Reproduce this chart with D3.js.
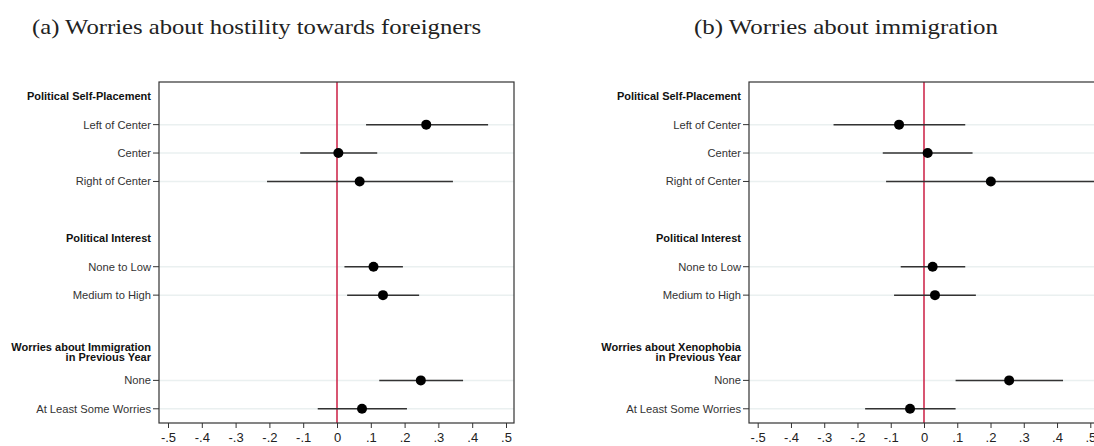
<!DOCTYPE html>
<html>
<head>
<meta charset="utf-8">
<script src="https://cdn.jsdelivr.net/npm/d3@7"></script>
<style>
  body { margin: 0; background: #fff; }
  svg { display: block; }
</style>
</head>
<body>
<script>
const width = 1094;
const height = 446;

// category rows (same for both panels) and their group
const categories = ["Left of Center", "Center", "Right of Center", "None to Low", "Medium to High", "None", "At Least Some Worries"];
const groupOf = [0, 0, 0, 1, 1, 2, 2];

const headingsA = [["Political Self-Placement"], ["Political Interest"], ["Worries about Immigration", "in Previous Year"]];
const headingsB = [["Political Self-Placement"], ["Political Interest"], ["Worries about Xenophobia", "in Previous Year"]];

// (a) hostility towards foreigners
const estA = [0.264, 0.004, 0.067, 0.108, 0.136, 0.248, 0.074];
const loA = [0.086, -0.109, -0.207, 0.022, 0.030, 0.125, -0.057];
const hiA = [0.447, 0.119, 0.343, 0.195, 0.243, 0.373, 0.207];

// (b) immigration
const estB = [-0.075, 0.011, 0.201, 0.026, 0.033, 0.256, -0.042];
const loB = [-0.272, -0.124, -0.114, -0.070, -0.090, 0.095, -0.177];
const hiB = [0.124, 0.146, 0.55, 0.124, 0.156, 0.418, 0.095];

const xTicks = [-0.5, -0.4, -0.3, -0.2, -0.1, 0, 0.1, 0.2, 0.3, 0.4, 0.5];
const titles = ["(a) Worries about hostility towards foreigners", "(b) Worries about immigration"];

let svg = d3.select("body")
    .append("svg")
    .attr("width", width)
    .attr("height", height);

function tickFmt(v) {
    if (v === 0) return "0";
    return (v < 0 ? "-" : "") + String(Math.abs(v)).replace(/^0/, "");
}

function drawPanel(p) {
    // build the row list: heading, items, blank spacer between groups
    let rows = [];
    p.headings.forEach((h, gi) => {
        rows.push({ key: "h" + gi, heading: h });
        categories.forEach((c, i) => {
            if (groupOf[i] === gi) rows.push({ key: "c" + i, idx: i });
        });
        if (gi < p.headings.length - 1) rows.push({ key: "b" + gi });
    });

    const top = 82, bottom = 423;
    const y = d3.scalePoint()
        .domain(rows.map(r => r.key))
        .range([top, bottom])
        .padding(0.5);

    const x = d3.scaleLinear()
        .domain([-0.5, 0.5])
        .range(p.xRange);

    const g = svg.append("g");

    // title (computer-modern look: stretched serif)
    svg.append("text")
        .attr("x", p.titleX)
        .attr("y", 34)
        .attr("font-family", "Liberation Serif, serif")
        .attr("font-size", 21)
        .attr("fill", "#222")
        .attr("textLength", p.titleLen)
        .attr("lengthAdjust", "spacingAndGlyphs")
        .text(p.title);

    // grid lines at each category
    const items = rows.filter(r => r.idx !== undefined);
    g.selectAll("line.grid")
        .data(items)
        .join("line")
        .attr("class", "grid")
        .attr("x1", p.boxLeft)
        .attr("x2", p.boxRight)
        .attr("y1", d => y(d.key))
        .attr("y2", d => y(d.key))
        .attr("stroke", "#eaf0f0")
        .attr("stroke-width", 1.5);

    // reference line at 0
    g.append("line")
        .attr("x1", x(0)).attr("x2", x(0))
        .attr("y1", top).attr("y2", bottom)
        .attr("stroke", "#cf2b4e")
        .attr("stroke-width", 1.6);

    // confidence intervals
    g.selectAll("line.ci")
        .data(items)
        .join("line")
        .attr("class", "ci")
        .attr("x1", d => x(p.lo[d.idx]))
        .attr("x2", d => x(p.hi[d.idx]))
        .attr("y1", d => y(d.key))
        .attr("y2", d => y(d.key))
        .attr("stroke", "#333")
        .attr("stroke-width", 1.5);

    g.selectAll("circle")
        .data(items)
        .join("circle")
        .attr("cx", d => x(p.est[d.idx]))
        .attr("cy", d => y(d.key))
        .attr("r", 5)
        .attr("fill", "#000");

    // plot box
    g.append("rect")
        .attr("x", p.boxLeft)
        .attr("y", top)
        .attr("width", p.boxRight - p.boxLeft)
        .attr("height", bottom - top)
        .attr("fill", "none")
        .attr("stroke", "#333")
        .attr("stroke-width", 1.2);

    // category labels with tick marks
    g.selectAll("line.ytick")
        .data(items)
        .join("line")
        .attr("class", "ytick")
        .attr("x1", p.boxLeft - 6).attr("x2", p.boxLeft)
        .attr("y1", d => y(d.key)).attr("y2", d => y(d.key))
        .attr("stroke", "#333");

    g.selectAll("text.ylab")
        .data(items)
        .join("text")
        .attr("class", "ylab")
        .attr("x", p.boxLeft - 8)
        .attr("y", d => y(d.key))
        .attr("dy", "0.35em")
        .attr("text-anchor", "end")
        .attr("font-family", "Liberation Sans, Arial, sans-serif")
        .attr("font-size", 11.2)
        .attr("fill", "#333")
        .text(d => categories[d.idx]);

    // group headings
    const heads = rows.filter(r => r.heading);
    g.selectAll("text.head")
        .data(heads)
        .join("text")
        .attr("class", "head")
        .attr("text-anchor", "end")
        .attr("font-family", "Liberation Sans, Arial, sans-serif")
        .attr("font-weight", "bold")
        .attr("font-size", 11)
        .attr("fill", "#111")
        .each(function(d) {
            const n = d.heading.length;
            d3.select(this).selectAll("tspan")
                .data(d.heading)
                .join("tspan")
                .attr("x", p.boxLeft - 8)
                .attr("y", (t, i) => y(d.key) + (i - (n - 1) / 2) * 10.6)
                .attr("dy", "0.35em")
                .text(t => t);
        });

    // x axis
    const ax = g.append("g")
        .attr("transform", `translate(0,${bottom})`)
        .call(d3.axisBottom(x).tickValues(xTicks).tickSize(5).tickFormat(tickFmt));
    ax.select(".domain").remove();
    ax.selectAll(".tick line").attr("stroke", "#333");
    ax.selectAll(".tick text")
        .attr("font-family", "Liberation Sans, Arial, sans-serif")
        .attr("font-size", 13)
        .attr("fill", "#222")
        .attr("y", 10);
}

drawPanel({
    title: titles[0], titleX: 32, titleLen: 449,
    headings: headingsA, est: estA, lo: loA, hi: hiA,
    boxLeft: 159, boxRight: 514, xRange: [168, 506]
});

drawPanel({
    title: titles[1], titleX: 694, titleLen: 304,
    headings: headingsB, est: estB, lo: loB, hi: hiB,
    boxLeft: 749, boxRight: 1102, xRange: [757.7, 1090.3]
});
</script>
</body>
</html>
